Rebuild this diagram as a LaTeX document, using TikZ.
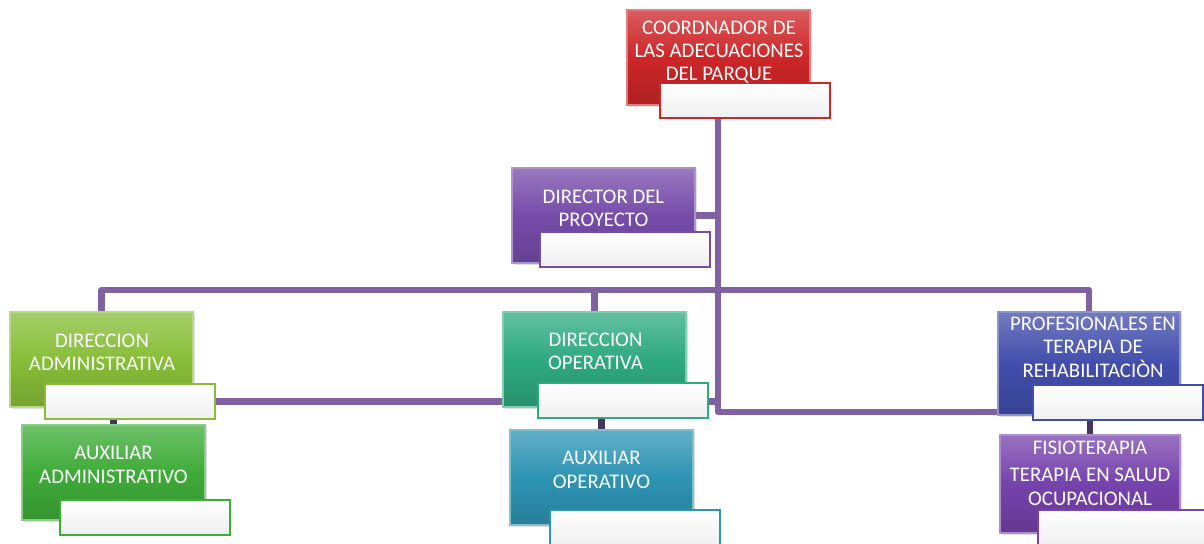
\documentclass[tikz,border=0pt]{standalone}
\usepackage{fontspec}
\setmainfont{Carlito}
\usepackage{tikz}
\usetikzlibrary{positioning}
\usetikzlibrary{backgrounds}
\usetikzlibrary{shadows}
\definecolor{cRed}{RGB}{205,38,40}
\definecolor{cDir}{RGB}{118,76,170}
\definecolor{cAdm}{RGB}{136,190,56}
\definecolor{cAuxA}{RGB}{62,172,56}
\definecolor{cOpe}{RGB}{46,170,128}
\definecolor{cAuxO}{RGB}{46,148,180}
\definecolor{cProf}{RGB}{66,78,172}
\definecolor{cFis}{RGB}{118,66,172}
\definecolor{cLine}{RGB}{128,98,162}
\tikzset{unit/.style={rectangle, anchor=north west, minimum width=4.575cm, minimum height=2.375cm, inner sep=0pt, outer sep=0pt,
    top color=#1!75!white, bottom color=#1!85!black, middle color=#1, draw=#1!60!white, line width=1.2pt,
    drop shadow={opacity=0.25, shadow xshift=1.5pt, shadow yshift=-1.5pt}}}
\tikzstyle{tbox}=[rectangle, anchor=north west, minimum width=4.25cm, minimum height=0.875cm, inner sep=0pt, outer sep=0pt, line width=1.6pt, top color=white, bottom color=gray!12]
\tikzstyle{lbl}=[text=white, align=center, inner sep=0pt, font=\fontsize{14.8}{16.6}\selectfont]
\tikzstyle{link}=[draw=cLine, line width=4.5pt, line join=round]
\tikzstyle{stub}=[draw=cLine!55!black, line width=4.5pt]

\begin{document}
\begin{tikzpicture}[x=0.025cm, y=-0.025cm]
    %\draw [help lines, step=100] (0,0) grid (1204,544);
    \useasboundingbox (0,0) rectangle (1204,544);

    \node [unit=cRed]  (coord) at (627,10)  {};
    \node [tbox, draw=cRed]  (coordW) at (660,83) {};
    \node [lbl] (coordT) at (719,52) {COORDNADOR DE\\LAS ADECUACIONES\\DEL PARQUE};

    \node [unit=cDir]  (dir) at (512,168) {};
    \node [tbox, draw=cDir]  (dirW) at (540,232) {};
    \node [lbl] (dirT) at (603.5,208) {DIRECTOR DEL\\PROYECTO};

    \node [unit=cAdm]  (adm) at (10,312) {};
    \node [tbox, draw=cAdm]  (admW) at (45,384) {};
    \node [lbl] (admT) at (102,352) {DIRECCION\\ADMINISTRATIVA};

    \node [unit=cAuxA] (auxA) at (22,425) {};
    \node [tbox, draw=cAuxA] (auxAW) at (60,500) {};
    \node [lbl] (auxAT) at (113.5,465) {AUXILIAR\\ADMINISTRATIVO};

    \node [unit=cOpe]  (ope) at (503,312) {};
    \node [tbox, draw=cOpe]  (opeW) at (538,383) {};
    \node [lbl] (opeT) at (595.5,351) {DIRECCION\\OPERATIVA};

    \node [unit=cAuxO] (auxO) at (510,430) {};
    \node [tbox, draw=cAuxO] (auxOW) at (550,510) {};
    \node [lbl] (auxOT) at (601.5,470) {AUXILIAR\\OPERATIVO};

    \node [unit=cProf, minimum width=4.55cm, minimum height=2.575cm] (prof) at (998,312) {};
    \node [tbox, draw=cProf] (profW) at (1033,385) {};
    \node [lbl] (profT) at (1093,347) {PROFESIONALES EN\\TERAPIA DE\\REHABILITACIÒN};

    \node [unit=cFis, minimum width=4.5cm, minimum height=2.45cm] (fis) at (1000,435) {};
    \node [tbox, draw=cFis] (fisW) at (1038,510) {};
    \node [lbl] (fisT) at (1090,473) {FISIOTERAPIA\\[3pt]TERAPIA EN SALUD\\OCUPACIONAL};

    \coordinate (hub) at (718,412);
    \coordinate (bus) at (718,290);

    \begin{pgfonlayer}{background}
    \path [link] (coordW.south -| hub) -- (hub) -- (hub -| prof.west);
    \path [link] (dir.east) -- (dir.east -| hub);
    \path [link] (adm.north) |- (bus) -| (prof.north);
    \path [link] (ope.north) -- (ope.north |- bus);
    \path [link] (admW.east) -- (admW.east -| hub);
    \path [stub] (auxA.north) -- (auxA.north |- admW.south);
    \path [stub] (auxO.north) -- (auxO.north |- opeW.south);
    \path [stub] (fis.north) -- (fis.north |- profW.south);
    \end{pgfonlayer}

  \end{tikzpicture}
\end{document}
